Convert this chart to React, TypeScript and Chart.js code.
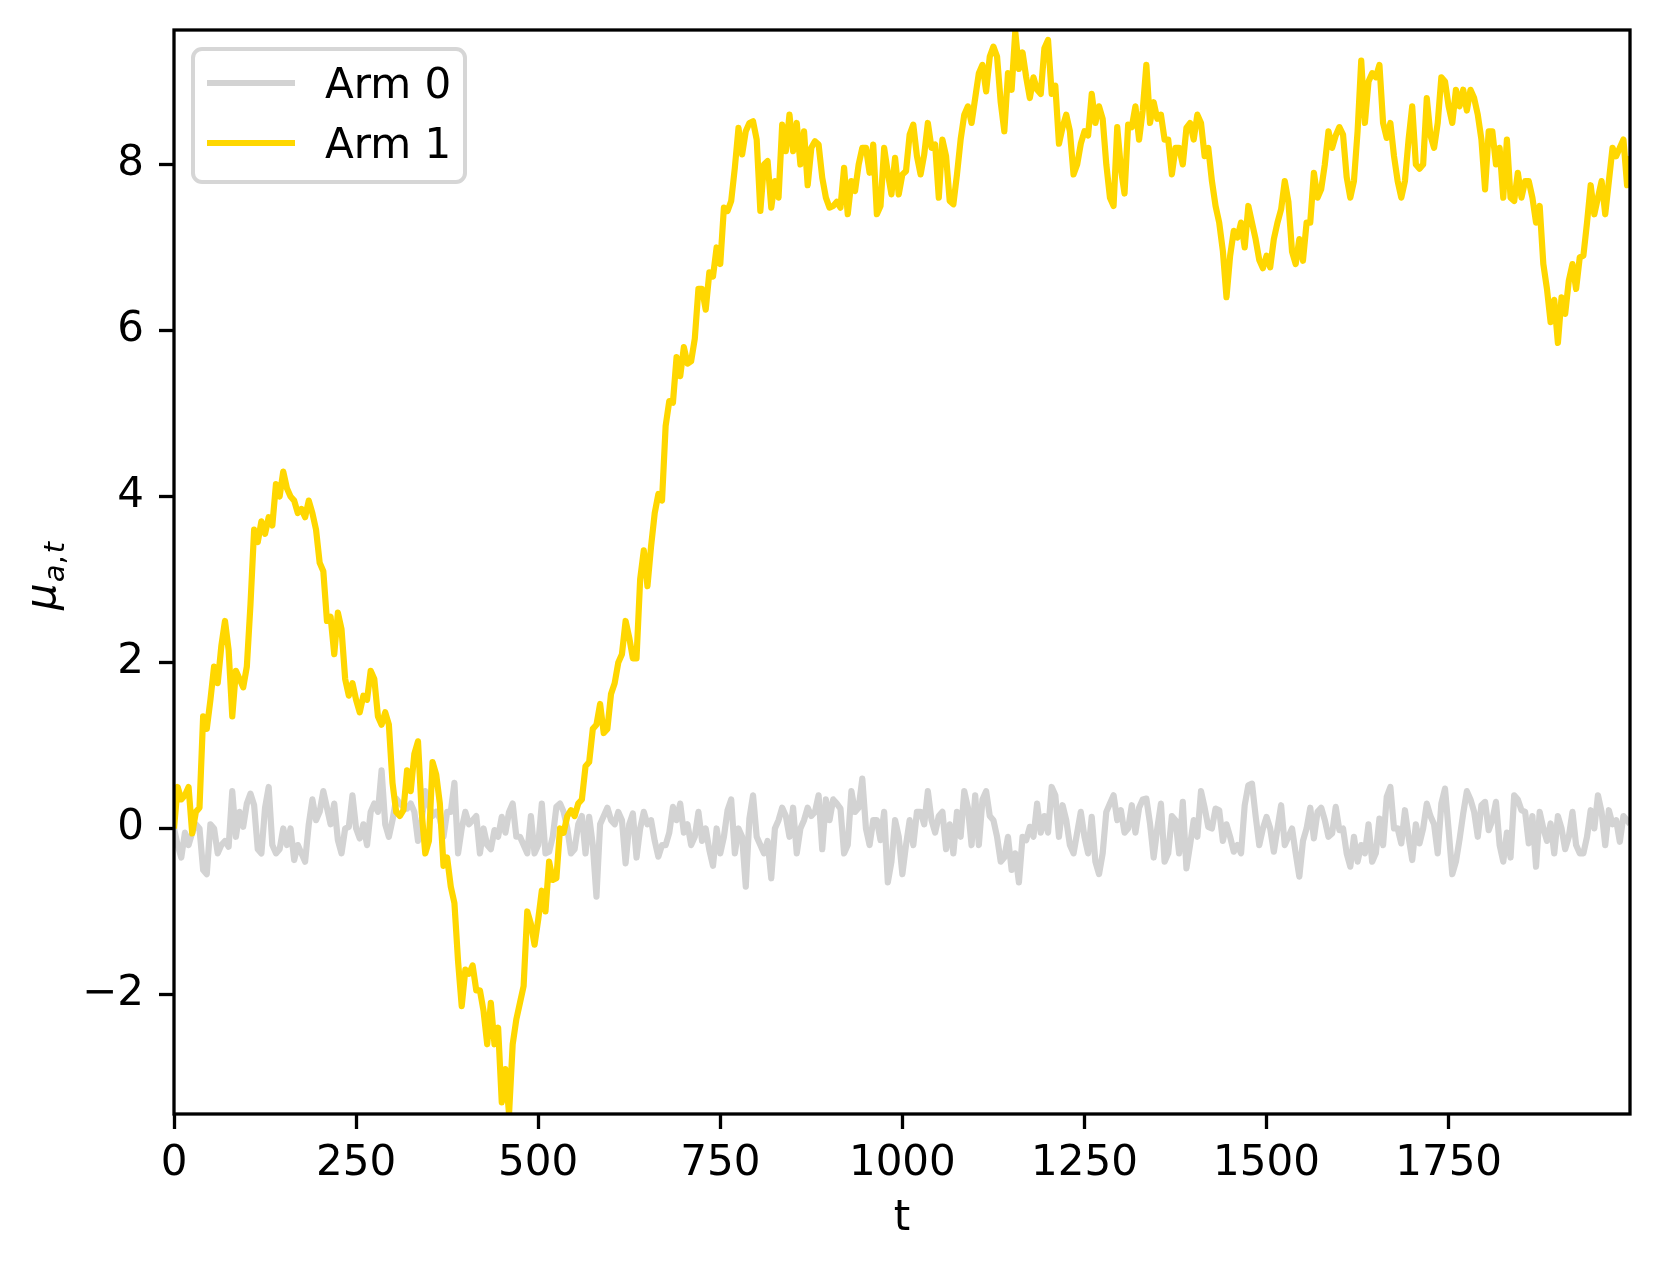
import React, { useEffect, useRef } from "react";
import { Chart, registerables } from "chart.js";

Chart.register(...registerables);

const T_STEP = 5;
const T_MAX = 1999;
const X_TICKS = [0, 250, 500, 750, 1000, 1250, 1500, 1750];
const Y_TICKS = [-2, 0, 2, 4, 6, 8];
const Y_MIN = -3.44;
const Y_MAX = 9.62;
const SERIES_LABELS = ["Arm 0", "Arm 1"];
const SERIES_COLORS = ["#d3d3d3", "#ffd700"];
const X_TITLE = "t";

const ARM0 = [
  0.0, -0.2, -0.35, -0.05, -0.2, -0.05, 0.05, 0.0, -0.5, -0.55, 0.05, 0.0, -0.3, -0.2, -0.15, -0.22, 0.45, -0.1, 0.2, 0.02,
  0.3, 0.42, 0.28, -0.25, -0.3, 0.25, 0.5, -0.2, -0.3, -0.25, 0.0, -0.2, 0.0, -0.38, -0.2, -0.3, -0.4, 0.05, 0.35, 0.1,
  0.2, 0.45, 0.25, 0.05, 0.3, -0.14, -0.3, 0.0, 0.02, 0.4, 0.0, -0.12, 0.05, -0.2, 0.2, 0.3, 0.2, 0.7, 0.05, -0.1,
  0.1, 0.36, 0.3, 0.26, 0.24, 0.3, 0.2, -0.15, 0.1, 0.45, 0.28, 0.15, 0.2, 0.12, -0.1, 0.2, 0.2, 0.55, -0.3, 0.0,
  0.2, 0.05, 0.1, 0.15, -0.3, 0.0, -0.2, -0.25, -0.02, -0.1, 0.14, -0.05, 0.2, 0.3, -0.1, -0.1, -0.2, -0.3, 0.15, -0.3,
  -0.2, 0.3, -0.3, -0.28, -0.1, 0.26, 0.3, 0.2, 0.0, -0.3, -0.25, 0.05, 0.15, -0.3, 0.14, -0.2, -0.82, 0.05, 0.15, 0.25,
  0.1, 0.05, 0.2, 0.1, -0.42, 0.05, 0.18, -0.35, 0.0, 0.2, 0.05, 0.1, -0.15, -0.34, -0.2, -0.2, -0.05, 0.26, 0.1, 0.3,
  -0.05, 0.05, -0.2, -0.1, 0.2, -0.15, 0.0, -0.26, -0.45, 0.0, -0.3, -0.1, 0.22, 0.35, -0.3, 0.0, -0.1, -0.7, 0.12, 0.4,
  -0.1, -0.2, -0.3, -0.15, -0.6, 0.0, 0.1, 0.25, 0.15, -0.1, 0.25, -0.3, 0.0, 0.1, 0.25, 0.15, 0.2, 0.4, -0.25, 0.35,
  0.1, 0.35, 0.3, 0.24, -0.3, -0.2, 0.45, 0.2, 0.25, 0.6, 0.0, -0.2, 0.1, 0.1, -0.14, 0.2, -0.65, -0.4, 0.1, -0.1,
  -0.55, -0.2, 0.1, -0.2, 0.2, 0.2, 0.05, 0.45, 0.1, -0.05, 0.15, 0.2, -0.25, 0.05, -0.3, 0.2, -0.1, 0.45, 0.25, -0.2,
  0.4, -0.2, 0.35, 0.45, 0.15, 0.1, -0.1, -0.4, -0.35, -0.1, -0.5, -0.3, -0.65, -0.1, -0.14, 0.02, -0.1, 0.3, -0.05, 0.15,
  -0.05, 0.5, 0.4, -0.1, 0.28, 0.1, -0.2, -0.3, -0.05, 0.2, -0.1, -0.3, 0.14, -0.4, -0.55, -0.3, 0.2, 0.3, 0.4, 0.1,
  0.22, -0.05, 0.0, 0.28, -0.05, 0.25, 0.35, 0.36, 0.06, -0.35, 0.0, 0.3, -0.4, -0.3, 0.15, 0.1, -0.3, 0.32, -0.48, -0.2,
  0.1, -0.1, 0.45, 0.25, 0.02, 0.0, 0.24, 0.22, -0.15, 0.05, -0.1, -0.28, -0.2, -0.3, 0.28, 0.52, 0.54, 0.15, -0.2, 0.0,
  0.14, 0.0, -0.28, 0.0, 0.28, -0.2, -0.1, 0.0, -0.3, -0.58, -0.15, 0.0, 0.25, -0.12, 0.2, 0.25, 0.1, -0.1, -0.06, 0.26,
  -0.02, 0.0, -0.3, -0.46, -0.1, -0.4, -0.2, -0.3, 0.05, -0.4, -0.3, 0.12, -0.2, 0.38, 0.5, 0.0, 0.0, -0.18, 0.22, -0.1,
  -0.38, 0.05, -0.18, 0.0, 0.3, 0.15, 0.05, -0.3, 0.3, 0.48, -0.02, -0.55, -0.4, -0.13, 0.18, 0.45, 0.35, 0.2, -0.1, 0.28,
  0.32, -0.02, 0.1, 0.32, -0.2, -0.4, -0.05, -0.35, 0.4, 0.35, 0.22, 0.2, -0.18, 0.15, -0.46, 0.2, 0.0, -0.15, 0.06, -0.3,
  0.15, 0.0, -0.25, -0.1, 0.2, -0.2, -0.3, -0.3, -0.1, 0.22, 0.0, 0.4, 0.2, -0.2, 0.22, 0.05, 0.1, -0.16, 0.15, 0.1,
  0.05,
];

const ARM1 = [
  0.0, 0.5, 0.35, 0.4, 0.5, -0.06, 0.2, 0.25, 1.35, 1.2, 1.55, 1.95, 1.75, 2.2, 2.5, 2.15, 1.35, 1.9, 1.8, 1.7,
  1.95, 2.7, 3.6, 3.45, 3.7, 3.55, 3.75, 3.65, 4.15, 4.0, 4.3, 4.1, 4.0, 3.95, 3.8, 3.85, 3.75, 3.95, 3.8, 3.6,
  3.2, 3.1, 2.5, 2.55, 2.1, 2.6, 2.4, 1.8, 1.6, 1.75, 1.55, 1.4, 1.6, 1.55, 1.9, 1.8, 1.35, 1.25, 1.4, 1.25,
  0.55, 0.2, 0.15, 0.22, 0.7, 0.45, 0.9, 1.05, 0.2, -0.3, -0.15, 0.8, 0.65, 0.3, -0.45, -0.35, -0.7, -0.9, -1.6, -2.14,
  -1.7, -1.75, -1.65, -1.95, -1.95, -2.2, -2.6, -2.1, -2.6, -2.4, -3.3, -2.9, -3.44, -2.6, -2.3, -2.1, -1.9, -1.0, -1.15, -1.4,
  -1.1, -0.75, -1.0, -0.4, -0.62, -0.6, 0.0, -0.05, 0.15, 0.22, 0.15, 0.3, 0.35, 0.75, 0.8, 1.2, 1.25, 1.5, 1.15, 1.2,
  1.62, 1.75, 2.0, 2.1, 2.5, 2.3, 2.05, 2.05, 3.0, 3.35, 2.92, 3.4, 3.8, 4.03, 3.95, 4.85, 5.15, 5.13, 5.68, 5.45,
  5.8, 5.6, 5.63, 5.9, 6.5, 6.5, 6.25, 6.7, 6.65, 7.0, 6.8, 7.48, 7.44, 7.56, 7.96, 8.44, 8.12, 8.4, 8.5, 8.52,
  8.3, 7.44, 8.0, 8.04, 7.48, 7.8, 7.6, 8.48, 8.16, 8.6, 8.16, 8.5, 8.0, 8.4, 7.75, 8.2, 8.28, 8.24, 7.84, 7.6,
  7.48, 7.5, 7.55, 7.48, 7.96, 7.4, 7.8, 7.68, 8.0, 8.2, 8.2, 7.9, 8.24, 7.4, 7.5, 8.2, 7.9, 7.64, 8.08, 7.64,
  7.88, 7.92, 8.36, 8.48, 8.1, 7.88, 8.12, 8.5, 8.2, 8.24, 7.6, 8.3, 8.1, 7.56, 7.52, 7.88, 8.3, 8.6, 8.7, 8.5,
  8.8, 9.1, 9.2, 8.88, 9.3, 9.42, 9.3, 8.75, 8.4, 9.1, 8.9, 9.6, 9.15, 9.35, 9.05, 8.8, 9.05, 8.9, 8.85, 9.4,
  9.5, 8.85, 8.95, 8.25, 8.45, 8.6, 8.4, 7.88, 8.0, 8.25, 8.4, 8.35, 8.85, 8.5, 8.7, 8.55, 8.0, 7.6, 7.5, 8.45,
  7.95, 7.65, 8.48, 8.45, 8.7, 8.3, 8.65, 9.2, 8.5, 8.75, 8.55, 8.6, 8.3, 8.3, 7.88, 8.2, 8.2, 8.0, 8.44, 8.5,
  8.3, 8.6, 8.5, 8.1, 8.2, 7.8, 7.5, 7.3, 6.96, 6.4, 6.9, 7.2, 7.12, 7.3, 7.0, 7.5, 7.3, 7.1, 6.85, 6.75,
  6.9, 6.76, 7.1, 7.3, 7.46, 7.8, 7.55, 6.95, 6.8, 7.1, 6.84, 7.3, 7.3, 7.9, 7.6, 7.7, 8.0, 8.4, 8.2, 8.35,
  8.45, 8.36, 7.85, 7.6, 7.8, 8.4, 9.25, 8.5, 9.0, 9.1, 9.05, 9.2, 8.5, 8.32, 8.5, 8.1, 7.8, 7.6, 7.8, 8.3,
  8.7, 8.0, 7.95, 8.0, 8.8, 8.35, 8.2, 8.5, 9.05, 9.0, 8.7, 8.5, 8.9, 8.7, 8.9, 8.65, 8.9, 8.8, 8.6, 8.3,
  7.7, 8.4, 8.4, 8.0, 8.2, 7.6, 8.3, 7.6, 7.56, 7.9, 7.6, 7.8, 7.8, 7.6, 7.3, 7.5, 6.8, 6.5, 6.1, 6.37,
  5.85, 6.4, 6.2, 6.6, 6.8, 6.5, 6.88, 6.9, 7.3, 7.75, 7.4, 7.6, 7.8, 7.4, 7.8, 8.2, 8.1, 8.2, 8.3, 7.75,
  8.1,
];

const FONT_FAMILY = "'DejaVu Sans', sans-serif";
const FONT_PX = 42;
const LINE_W = 6.2;
const SPINE_W = 3.3;

function toPoints(values: number[]) {
  return values.map((v, i) => ({ x: Math.min(i * T_STEP, T_MAX), y: v }));
}

const decorPlugin = {
  id: "decor",
  afterDatasetsDraw(chart: any) {
    const { ctx, chartArea: a } = chart;
    ctx.save();
    // frame (spines)
    ctx.strokeStyle = "#000";
    ctx.lineWidth = SPINE_W;
    ctx.strokeRect(a.left, a.top, a.right - a.left, a.bottom - a.top);

    // legend
    const bx = a.left + 19;
    const by = a.top + 19;
    const bw = 272;
    const bh = 133;
    ctx.beginPath();
    (ctx as any).roundRect(bx, by, bw, bh, 9);
    ctx.fillStyle = "rgba(255,255,255,0.8)";
    ctx.fill();
    ctx.lineWidth = 4;
    ctx.strokeStyle = "#d6d6d6";
    ctx.stroke();
    ctx.font = `${FONT_PX}px ${FONT_FAMILY}`;
    ctx.textAlign = "left";
    ctx.textBaseline = "alphabetic";
    SERIES_LABELS.forEach((lab, i) => {
      const cy = by + 34 + i * 60;
      ctx.beginPath();
      ctx.moveTo(bx + 14, cy);
      ctx.lineTo(bx + 102, cy);
      ctx.strokeStyle = SERIES_COLORS[i];
      ctx.lineWidth = LINE_W;
      ctx.lineCap = "butt";
      ctx.stroke();
      ctx.fillStyle = "#000";
      ctx.fillText(lab, bx + 132, cy + 15);
    });

    // x title
    ctx.fillStyle = "#000";
    ctx.font = `${FONT_PX}px ${FONT_FAMILY}`;
    ctx.textAlign = "center";
    ctx.fillText(X_TITLE, (a.left + a.right) / 2, a.bottom + 116);

    // y title: mu_{a,t}, rotated
    ctx.translate(a.left - 119, 610);
    ctx.rotate(-Math.PI / 2);
    ctx.textAlign = "left";
    ctx.font = `italic ${FONT_PX}px ${FONT_FAMILY}`;
    ctx.fillText("\u03bc", 0, 0);
    let u = ctx.measureText("\u03bc").width + 1;
    const subPx = Math.round(FONT_PX * 0.7);
    const sv = 9;
    ctx.font = `italic ${subPx}px ${FONT_FAMILY}`;
    ctx.fillText("a", u, sv);
    u += ctx.measureText("a").width;
    ctx.font = `${subPx}px ${FONT_FAMILY}`;
    ctx.fillText(",", u, sv);
    u += ctx.measureText(",").width + 2;
    ctx.font = `italic ${subPx}px ${FONT_FAMILY}`;
    ctx.fillText("t", u, sv);
    ctx.restore();
  },
};

export default function App() {
  const ref = useRef<HTMLCanvasElement | null>(null);
  useEffect(() => {
    document.body.style.margin = "0";
    const canvas = ref.current;
    if (!canvas) return;
    const tickFont = { family: FONT_FAMILY, size: FONT_PX };
    const chart = new Chart(canvas, {
      type: "line",
      data: {
        datasets: [
          {
            label: SERIES_LABELS[0],
            data: toPoints(ARM0),
            borderColor: SERIES_COLORS[0],
            borderWidth: LINE_W,
            pointRadius: 0,
            tension: 0,
            borderJoinStyle: "round",
            borderCapStyle: "butt",
            clip: 0,
            order: 2,
          } as any,
          {
            label: SERIES_LABELS[1],
            data: toPoints(ARM1),
            borderColor: SERIES_COLORS[1],
            borderWidth: LINE_W,
            pointRadius: 0,
            tension: 0,
            borderJoinStyle: "round",
            borderCapStyle: "butt",
            clip: 0,
            order: 1,
          } as any,
        ],
      },
      options: {
        animation: false,
        responsive: false,
        devicePixelRatio: 1,
        parsing: false,
        normalized: true,
        layout: { padding: { top: 30, right: 30, left: 0, bottom: 0 } },
        plugins: { legend: { display: false }, tooltip: { enabled: false } },
        scales: {
          x: {
            type: "linear",
            min: 0,
            max: T_MAX,
            afterFit: (s: any) => {
              s.height = 154;
              s.paddingLeft = 0;
              s.paddingRight = 0;
              s.paddingTop = 0;
              s.paddingBottom = 0;
            },
            afterBuildTicks: (s: any) => {
              s.ticks = X_TICKS.map((v) => ({ value: v }));
            },
            grid: {
              drawOnChartArea: false,
              drawTicks: true,
              tickLength: 15,
              tickWidth: SPINE_W,
              tickColor: "#000",
            },
            border: { display: false },
            ticks: {
              font: tickFont,
              color: "#000",
              padding: 10,
              maxRotation: 0,
              autoSkip: false,
              callback: (v: any) => String(v),
            },
          },
          y: {
            type: "linear",
            min: Y_MIN,
            max: Y_MAX,
            afterFit: (s: any) => {
              s.width = 174;
              s.paddingLeft = 0;
              s.paddingRight = 0;
              s.paddingTop = 0;
              s.paddingBottom = 0;
            },
            afterBuildTicks: (s: any) => {
              s.ticks = Y_TICKS.map((v) => ({ value: v }));
            },
            grid: {
              drawOnChartArea: false,
              drawTicks: true,
              tickLength: 15,
              tickWidth: SPINE_W,
              tickColor: "#000",
            },
            border: { display: false },
            ticks: {
              font: tickFont,
              color: "#000",
              padding: 15,
              autoSkip: false,
              callback: (v: any) => (v < 0 ? "\u2212" + Math.abs(v) : String(v)),
            },
          },
        },
      },
      plugins: [decorPlugin],
    } as any);
    return () => chart.destroy();
  }, []);
  return <canvas ref={ref} width={1660} height={1268} style={{ display: "block" }} />;
}
